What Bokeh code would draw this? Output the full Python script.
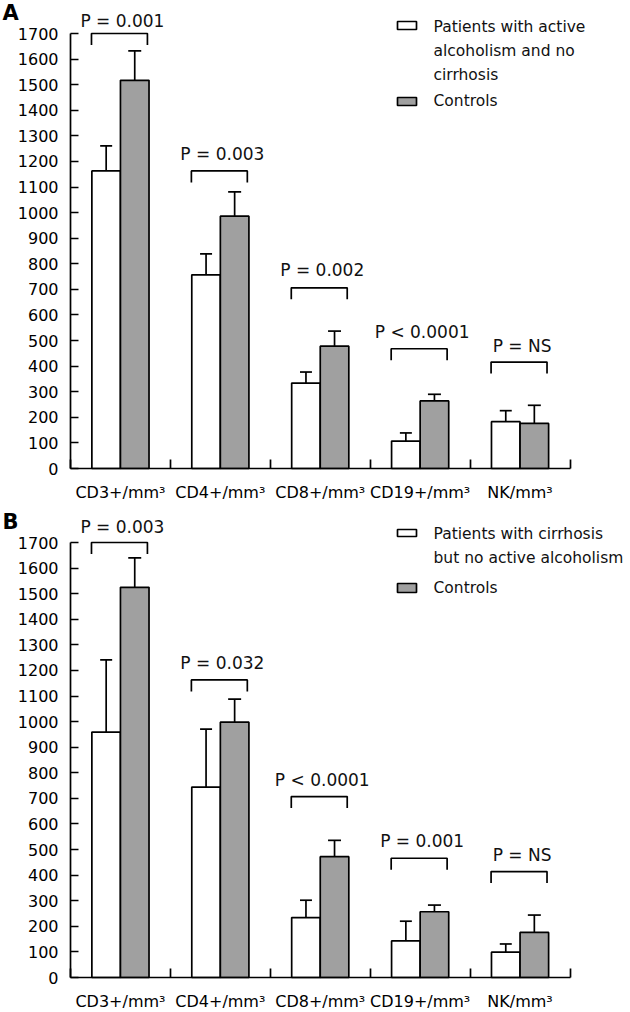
from bokeh.plotting import figure
from bokeh.models import Range1d, FixedTicker
from bokeh.layouts import column
from bokeh.core.properties import value
from bokeh.embed import file_html
from bokeh.resources import INLINE

# ---------------- data ----------------
categories = ["CD3+/mm³", "CD4+/mm³", "CD8+/mm³", "CD19+/mm³", "NK/mm³"]
y_ticks = list(range(0, 1800, 100))

# Panel A: patients with active alcoholism and no cirrhosis vs controls
a_patients = [1163, 757, 334, 107, 183]
a_patients_err = [98, 82, 43, 32, 43]
a_controls = [1517, 986, 478, 264, 176]
a_controls_err = [115, 95, 59, 26, 71]
a_pvalues = ["P = 0.001", "P = 0.003", "P = 0.002", "P < 0.0001", "P = NS"]
a_bracket_y = [1700, 1163, 706, 468, 416]
a_ptext_y = [1749, 1228, 774, 533, 477]
a_legend = ["Patients with active", "alcoholism and no", "cirrhosis", "Controls"]

# Panel B: patients with cirrhosis but no active alcoholism vs controls
b_patients = [959, 744, 234, 143, 99]
b_patients_err = [282, 227, 68, 77, 32]
b_controls = [1525, 998, 472, 257, 176]
b_controls_err = [115, 90, 64, 26, 68]
b_pvalues = ["P = 0.003", "P = 0.032", "P < 0.0001", "P = 0.001", "P = NS"]
b_bracket_y = [1700, 1163, 707, 466, 414]
b_ptext_y = [1759, 1231, 770, 533, 477]
b_legend = ["Patients with cirrhosis", "but no active alcoholism", "Controls"]

# ---------------- style ----------------
FONT = "DejaVu Sans"
GRAY = "#a0a0a0"
LW = 1.7
WIDTH = 630
AXIS_X = 70            # pixel position of the y axis
CAT_PX = 99.9          # pixels per category
ZERO_Y = 468           # pixel position of value 0 inside each panel
PX_PER_UNIT = 435.0 / 1700.0
Y_END = ZERO_Y / PX_PER_UNIT
X_START = -AXIS_X / CAT_PX
X_END = (WIDTH - AXIS_X) / CAT_PX
BAR_W = 0.286


def px_x(px):
    return (px - AXIS_X) / CAT_PX


def px_y(py):
    return (ZERO_Y - py) / PX_PER_UNIT


def make_panel(letter, height, standoff, pat, pat_err, ctl, ctl_err,
               pvals, br_y, pt_y, leg_lines, leg_line_py, leg_white_py, leg_gray_py,
               letter_py):
    y_start = -(height - ZERO_Y) / PX_PER_UNIT
    p = figure(width=WIDTH, height=height, x_range=Range1d(X_START, X_END),
               y_range=Range1d(y_start, Y_END), output_backend="svg",
               toolbar_location=None, min_border_left=0, min_border_right=0,
               min_border_top=0, min_border_bottom=0)
    p.outline_line_color = None
    p.xgrid.visible = False
    p.ygrid.visible = False
    p.background_fill_color = "white"

    n = len(categories)
    xw = [i + 0.5 - BAR_W / 2 for i in range(n)]
    xg = [i + 0.5 + BAR_W / 2 for i in range(n)]

    # error bars (upper whisker only)
    pat_hi = [v + e for v, e in zip(pat, pat_err)]
    ctl_hi = [v + e for v, e in zip(ctl, ctl_err)]
    p.segment(x0=xw, y0=pat, x1=xw, y1=pat_hi, line_color="black", line_width=LW)
    p.segment(x0=[x - 0.06 for x in xw], y0=pat_hi, x1=[x + 0.06 for x in xw],
              y1=pat_hi, line_color="black", line_width=LW)
    p.segment(x0=xg, y0=ctl, x1=xg, y1=ctl_hi, line_color="black", line_width=LW)
    p.segment(x0=[x - 0.065 for x in xg], y0=ctl_hi, x1=[x + 0.065 for x in xg],
              y1=ctl_hi, line_color="black", line_width=LW)

    # bars
    p.vbar(x=xw, top=pat, width=BAR_W, bottom=0, fill_color="white",
           line_color="black", line_width=LW)
    p.vbar(x=xg, top=ctl, width=BAR_W, bottom=0, fill_color=GRAY,
           line_color="black", line_width=LW)

    # significance brackets
    bl = [i + 0.21 for i in range(n)]
    brr = [i + 0.77 for i in range(n)]
    xs = [[a, a, b, b] for a, b in zip(bl, brr)]
    ys = [[y - 45, y, y, y - 45] for y in br_y]
    p.multi_line(xs=xs, ys=ys, line_color="black", line_width=LW)
    p.text(x=[i + 0.52 for i in range(n)], y=pt_y, text=pvals,
           text_font=value(FONT), text_font_size=value("17px"),
           text_align="center", text_baseline="middle", text_color="#111111")

    # legend (drawn manually)
    lx0, lx1 = px_x(397), px_x(416)
    p.quad(left=[lx0], right=[lx1], top=[px_y(leg_white_py[0])],
           bottom=[px_y(leg_white_py[1])],
           fill_color="white", line_color="black", line_width=LW)
    p.quad(left=[lx0], right=[lx1], top=[px_y(leg_gray_py[0])],
           bottom=[px_y(leg_gray_py[1])],
           fill_color=GRAY, line_color="black", line_width=LW)
    p.text(x=[px_x(433)] * len(leg_lines), y=[px_y(v) for v in leg_line_py],
           text=leg_lines, text_font=value(FONT), text_font_size=value("15.5px"),
           text_align="left", text_baseline="middle", text_color="#111111")

    # panel letter
    p.text(x=[px_x(2)], y=[px_y(letter_py)], text=[letter], text_font=value(FONT),
           text_font_size=value("21px"), text_font_style="bold",
           text_align="left", text_baseline="middle", text_color="black")

    # y axis, drawn at x = 0 inside the frame
    ya = p.yaxis[0]
    ya.fixed_location = 0
    ya.ticker = FixedTicker(ticks=y_ticks)
    ya.bounds = (0, 1700)
    ya.major_tick_in = 8
    ya.major_tick_out = 0
    ya.minor_tick_line_color = None
    ya.major_label_standoff = 12
    ya.axis_line_width = LW
    ya.major_tick_line_width = LW
    ya.major_label_text_font = FONT
    ya.major_label_text_font_size = "16px"
    ya.major_label_text_color = "black"

    # x axis, drawn at y = 0 inside the frame
    xa = p.xaxis[0]
    xa.fixed_location = 0
    xa.ticker = FixedTicker(ticks=[i + 0.5 for i in range(n)],
                            minor_ticks=list(range(0, n + 1)))
    xa.major_label_overrides = {i + 0.5: c for i, c in enumerate(categories)}
    xa.bounds = (0, n)
    xa.major_tick_in = 0
    xa.major_tick_out = 0
    xa.major_tick_line_color = None
    xa.minor_tick_in = 9
    xa.minor_tick_out = 0
    xa.minor_tick_line_width = LW
    xa.axis_line_width = LW
    xa.major_label_standoff = standoff
    xa.major_label_text_font = FONT
    xa.major_label_text_font_size = "16px"
    xa.major_label_text_color = "black"
    return p


pa = make_panel("A", 509, 14, a_patients, a_patients_err, a_controls, a_controls_err,
                a_pvalues, a_bracket_y, a_ptext_y, a_legend,
                [26, 50, 74, 100], (21, 29), (97, 105), 12)
pb = make_panel("B", 503, 14, b_patients, b_patients_err, b_controls, b_controls_err,
                b_pvalues, b_bracket_y, b_ptext_y, b_legend,
                [24, 48, 78], (20, 27), (74, 83), 12)

layout = column(pa, pb)
open("out.html", "w").write(file_html(layout, INLINE))
